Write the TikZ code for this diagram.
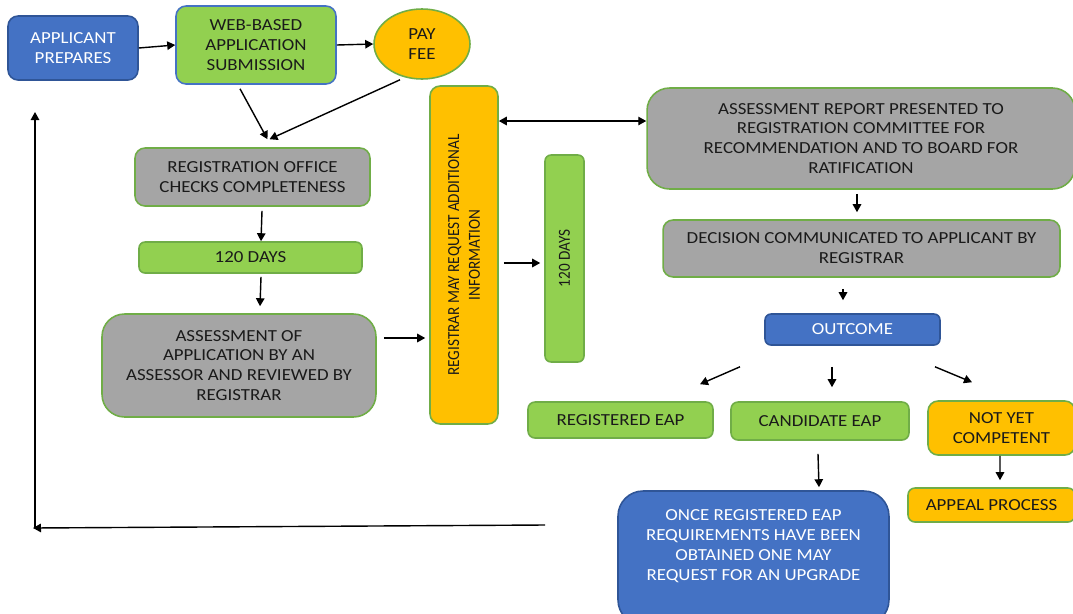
\documentclass[tikz,border=0pt]{standalone}
\usepackage{fontspec}
\setmainfont{Carlito}[FakeStretch=1.12]
\newfontfamily\condfont{Carlito}[FakeStretch=0.9]
\usetikzlibrary{arrows.meta,calc,shapes.geometric}
\definecolor{cblue}{HTML}{4472C4}
\definecolor{cbluedk}{HTML}{2F5597}
\definecolor{cgreen}{HTML}{92D050}
\definecolor{cgreendk}{HTML}{70AD47}
\definecolor{cgray}{HTML}{A5A5A5}
\definecolor{corange}{HTML}{FFC000}
\definecolor{ctext}{HTML}{1A1A1A}
\tikzset{
  box/.style={rectangle, rounded corners=0.2cm, line width=0.9pt, align=center, inner sep=1pt,
    font=\fontsize{9.6}{11.3}\selectfont, text=ctext},
  bluebox/.style={box, fill=cblue, draw=cbluedk, text=white},
  greenbox/.style={box, fill=cgreen, draw=cgreendk},
  graybox/.style={box, fill=cgray, draw=cgreendk},
  orangebox/.style={box, fill=corange, draw=cgreendk},
  vtext/.style={font=\condfont\fontsize{9.6}{11.8}\selectfont},
  arr/.style={-{Triangle[length=0.16cm,width=0.17cm]}, line width=0.8pt, black},
}
\begin{document}
\begin{tikzpicture}[x=0.02cm,y=-0.02cm]
\clip (0,0) rectangle (1073,613);
\useasboundingbox (0,0) rectangle (1073,613);
% nodes
\node[bluebox, minimum width=2.6cm, minimum height=1.28cm] (app) at (73,48) {APPLICANT\\PREPARES};
\node[greenbox, draw=cblue, minimum width=3.2cm, minimum height=1.56cm] (web) at (256,45) {WEB-BASED\\APPLICATION\\SUBMISSION};
\node[ellipse, fill=corange, draw=cgreendk, line width=0.9pt, align=center, inner sep=0pt,
  font=\fontsize{9.6}{11.3}\selectfont, text=ctext, minimum width=1.92cm, minimum height=1.4cm] (pay) at (422,44) {PAY\\FEE};
\node[graybox, minimum width=4.7cm, minimum height=1.16cm] (reg) at (252.5,177) {REGISTRATION OFFICE\\CHECKS COMPLETENESS};
\node[greenbox, rounded corners=0.12cm, minimum width=4.46cm, minimum height=0.62cm] (d1) at (250.5,257.5) {120 DAYS};
\node[graybox, rounded corners=0.45cm, minimum width=5.48cm, minimum height=2.06cm] (assess) at (239,365.5) {ASSESSMENT OF\\APPLICATION BY AN\\ASSESSOR AND REVIEWED BY\\REGISTRAR};
\node[orangebox, rotate=90, minimum width=6.76cm, minimum height=1.36cm, vtext] (reqinfo) at (464,255) {REGISTRAR MAY REQUEST ADDITIONAL\\INFORMATION};
\node[greenbox, rotate=90, rounded corners=0.12cm, minimum width=4.14cm, minimum height=0.78cm, vtext] (d2) at (564.5,258.5) {120 DAYS};
\node[graybox, rounded corners=0.45cm, minimum width=8.56cm, minimum height=2.02cm] (report) at (861,138.5) {ASSESSMENT REPORT PRESENTED TO\\REGISTRATION COMMITTEE FOR\\RECOMMENDATION AND TO BOARD FOR\\RATIFICATION};
\node[graybox, minimum width=7.94cm, minimum height=1.14cm] (decision) at (861.5,248.5) {DECISION COMMUNICATED TO APPLICANT BY\\REGISTRAR};
\node[bluebox, rounded corners=0.12cm, minimum width=3.5cm, minimum height=0.62cm] (outcome) at (852.5,329.5) {OUTCOME};
\node[greenbox, rounded corners=0.14cm, minimum width=3.7cm, minimum height=0.72cm] (regeap) at (620.5,420) {REGISTERED EAP};
\node[greenbox, rounded corners=0.14cm, minimum width=3.56cm, minimum height=0.76cm] (cand) at (820,421) {CANDIDATE EAP};
\node[orangebox, minimum width=2.94cm, minimum height=1.08cm] (nyc) at (1001.5,428) {NOT YET\\COMPETENT};
\node[orangebox, rounded corners=0.14cm, minimum width=3.34cm, minimum height=0.68cm] (appeal) at (991.5,505) {APPEAL PROCESS};
\node[bluebox, rounded corners=0.5cm, minimum width=5.42cm, minimum height=2.68cm] (once) at (753.5,558) {ONCE REGISTERED EAP\\REQUIREMENTS HAVE BEEN\\OBTAINED ONE MAY\\REQUEST FOR AN UPGRADE\\ \strut};
% connectors
\draw[arr] (app.east) -- (web.west);
\draw[arr] (web.east) -- (pay.west);
\draw[arr] ($(web.south)+(-16,4)$) -- ($(reg.north)+(15,-8)$);
\draw[arr] ($(pay.south)+(-22,0)$) -- ($(reg.north)+(17,-8)$);
\draw[arr] ($(reg.south)+(9.5,4)$) -- ($(d1.north)+(10.5,0)$);
\draw[arr] ($(d1.south)+(10.5,3)$) -- ($(assess.north)+(21,-7)$);
\coordinate (a1) at ($(assess.east)+(7,-27.5)$);
\draw[arr] (a1) -- ($(reqinfo.north |- a1)+(-4,0)$);
\coordinate (r1) at ($(report.west)+(0,-17.5)$);
\draw[arr,{Triangle[length=0.16cm,width=0.17cm]}-{Triangle[length=0.16cm,width=0.17cm]}] (reqinfo.south |- r1) -- (r1);
\coordinate (q1) at ($(reqinfo.south)+(5,8)$);
\draw[arr] (q1) -- ($(d2.north |- q1)+(-4,0)$);
\draw[arr] ($(report.south)+(-4,4)$) -- ($(decision.north)+(-4.5,-7)$);
\draw[arr] ($(decision.south)+(-18.5,11)$) -- ($(outcome.north)+(-9.5,-13)$);
\draw[arr] ($(outcome.south)+(-112.5,21)$) -- ($(regeap.north)+(79.5,-17)$);
\draw[arr] ($(outcome.south)+(-20.5,21)$) -- ($(cand.north)+(12,-14)$);
\draw[arr] ($(outcome.south)+(82.5,21)$) -- ($(nyc.north)+(-29.5,-18)$);
\draw[arr] ($(cand.south)+(-2,13)$) -- ($(once.north)+(65.5,-3)$);
\draw[arr] ($(nyc.south)+(-1.5,0)$) -- ($(appeal.north)+(8.5,-7)$);
\coordinate (b1) at (545,525);
\coordinate (b2) at (33,528);
\coordinate (b3) at (35,528);
\coordinate (b4) at (35,112);
\draw[arr] (b1) -- (b2);
\draw[arr] (b3) -- (b4);
\end{tikzpicture}
\end{document}
